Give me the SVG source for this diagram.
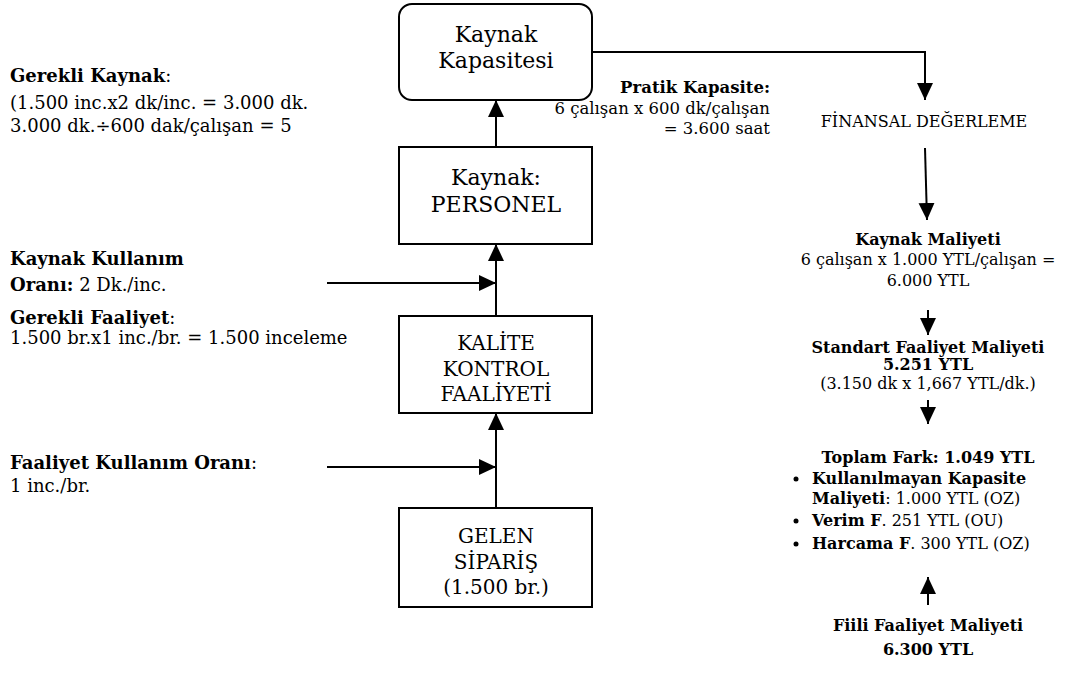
<svg xmlns="http://www.w3.org/2000/svg" width="1066" height="689" viewBox="0 0 1066 689">
<defs>
<marker id="ah" markerUnits="userSpaceOnUse" markerWidth="18" markerHeight="18" viewBox="0 0 18 16" refX="17" refY="8" orient="auto">
<path d="M0,0 L17,8 L0,16 Z" fill="#000"/>
</marker>
</defs>
<style>
text{font-family:"DejaVu Serif","Liberation Serif",serif;fill:#000}
.box{fill:#fff;stroke:#000;stroke-width:2}
.bt{font-size:22px;text-anchor:middle}
.bs{font-size:20px;text-anchor:middle}
.lt{font-size:18px}
.rt{font-size:16px}
.pt{font-size:16.5px;text-anchor:end}
.c{text-anchor:middle}
.b{font-weight:bold}
.con{fill:none;stroke:#000;stroke-width:2;marker-end:url(#ah)}
</style>
<rect width="1066" height="689" fill="#fff"/>
<g id="connectors">
<path class="con" d="M496,147 V100"/>
<path class="con" d="M496,316 V244"/>
<path class="con" d="M496,508 V413"/>
<path class="con" d="M327,283 H496"/>
<path class="con" d="M327,467 H496"/>
<path class="con" d="M592,52 H925 V100"/>
<path class="con" d="M925,148 L927,220"/>
<path class="con" d="M928,310 V335"/>
<path class="con" d="M928,400 V424"/>
<path class="con" d="M928,605 V577"/>
</g>
<g id="node-kapasite">
<rect class="box" x="399" y="4" width="193" height="96" rx="13"/>
<text class="bt" x="496" y="42">Kaynak</text>
<text class="bt" x="496" y="68">Kapasitesi</text>
</g>
<g id="node-personel">
<rect class="box" x="399" y="147" width="193" height="97"/>
<text class="bt" x="496" y="185">Kaynak:</text>
<text class="bt" x="496" y="212">PERSONEL</text>
</g>
<g id="node-kalite">
<rect class="box" x="399" y="316" width="193" height="97"/>
<text class="bs" x="496" y="350">KALİTE</text>
<text class="bs" x="496" y="376">KONTROL</text>
<text class="bs" x="496" y="401">FAALİYETİ</text>
</g>
<g id="node-gelen">
<rect class="box" x="399" y="508" width="193" height="99"/>
<text class="bs" x="496" y="543">GELEN</text>
<text class="bs" x="496" y="569">SİPARİŞ</text>
<text class="bs" x="496" y="594">(1.500 br.)</text>
</g>
<g id="note-gerekli-kaynak">
<text class="lt" x="10" y="82"><tspan class="b">Gerekli Kaynak</tspan>:</text>
<text class="lt" x="10" y="109">(1.500 inc.x2 dk/inc. = 3.000 dk.</text>
<text class="lt" x="10" y="132">3.000 dk.÷600 dak/çalışan = 5</text>
</g>
<g id="note-kaynak-kullanim">
<text class="lt" x="10" y="265"><tspan class="b">Kaynak Kullanım</tspan></text>
<text class="lt" x="10" y="291"><tspan class="b">Oranı:</tspan> 2 Dk./inc.</text>
</g>
<g id="note-gerekli-faaliyet">
<text class="lt" x="10" y="324"><tspan class="b">Gerekli Faaliyet</tspan>:</text>
<text class="lt" x="10" y="344">1.500 br.x1 inc./br. = 1.500 inceleme</text>
</g>
<g id="note-faaliyet-kullanim">
<text class="lt" x="10" y="469"><tspan class="b">Faaliyet Kullanım Oranı</tspan>:</text>
<text class="lt" x="10" y="492">1 inc./br.</text>
</g>
<g id="note-pratik">
<text class="pt b" x="770" y="93">Pratik Kapasite:</text>
<text class="pt" x="770" y="114">6 çalışan x 600 dk/çalışan</text>
<text class="pt" x="770" y="134">= 3.600 saat</text>
</g>
<g id="node-finansal">
<text class="rt c" x="924" y="127">FİNANSAL DEĞERLEME</text>
</g>
<g id="node-kaynak-maliyeti">
<text class="rt c b" x="928" y="245">Kaynak Maliyeti</text>
<text class="rt c" x="928" y="265">6 çalışan x 1.000 YTL/çalışan =</text>
<text class="rt c" x="928" y="286">6.000 YTL</text>
</g>
<g id="node-standart">
<text class="rt c b" x="928" y="353">Standart Faaliyet Maliyeti</text>
<text class="rt c b" x="928" y="370">5.251 YTL</text>
<text class="rt c" x="928" y="389">(3.150 dk x 1,667 YTL/dk.)</text>
</g>
<g id="node-toplam">
<text class="rt c b" x="928" y="463">Toplam Fark: 1.049 YTL</text>
<circle cx="796" cy="479" r="2.5"/>
<text class="rt b" x="812" y="484">Kullanılmayan Kapasite</text>
<text class="rt" x="812" y="504"><tspan class="b">Maliyeti</tspan>: 1.000 YTL (OZ)</text>
<circle cx="796" cy="521" r="2.5"/>
<text class="rt" x="812" y="526"><tspan class="b">Verim F</tspan>. 251 YTL (OU)</text>
<circle cx="796" cy="544" r="2.5"/>
<text class="rt" x="812" y="549"><tspan class="b">Harcama F</tspan>. 300 YTL (OZ)</text>
</g>
<g id="node-fiili">
<text class="rt c b" x="928" y="631">Fiili Faaliyet Maliyeti</text>
<text class="rt c b" x="928" y="655">6.300 YTL</text>
</g>
</svg>
